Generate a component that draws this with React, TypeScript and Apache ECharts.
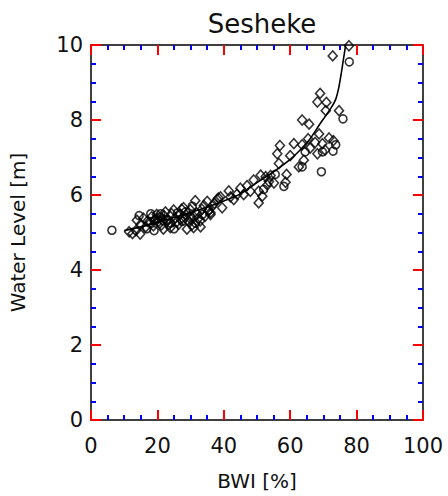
import React, { useEffect, useRef } from "react";
import * as echarts from "echarts";

const titleText = "Sesheke";
const xName = "BWI [%]";
const yName = "Water Level [m]";

// hollow diamonds [BWI %, water level m]
const diamondPoints: number[][] = [
  [11.5, 5.02], [12.5, 4.97], [13.5, 5.05], [14.8, 4.96], [13.8, 5.33], [15.0, 5.22], [15.8, 5.38],
  [16.5, 5.15], [17.0, 5.30], [17.8, 5.25], [18.3, 5.42], [18.8, 5.18], [19.3, 5.35], [19.8, 5.48],
  [20.2, 5.28], [20.8, 5.40], [21.2, 5.20], [21.8, 5.09], [22.0, 5.45], [22.4, 5.55], [23.0, 5.32],
  [23.5, 5.22], [23.9, 5.13], [24.3, 5.50], [24.9, 5.60], [25.3, 5.38], [25.8, 5.28], [26.4, 5.22],
  [26.8, 5.48], [27.3, 5.62], [27.9, 5.66], [28.3, 5.40], [28.9, 5.09], [29.3, 5.30], [29.9, 5.61],
  [29.9, 5.44], [30.4, 5.20], [30.9, 5.13], [31.4, 5.85], [31.8, 5.52], [32.4, 5.38], [32.9, 5.31],
  [33.4, 5.62], [34.0, 5.72], [34.4, 5.44], [35.0, 5.83], [35.4, 5.58], [36.0, 5.53], [36.5, 5.70],
  [37.2, 5.78], [38.0, 5.88], [38.4, 5.92], [39.5, 5.66], [36.0, 5.48], [33.0, 5.15], [19.0, 5.32],
  [20.0, 5.38], [21.5, 5.33], [27.0, 5.35], [30.0, 5.36], [31.0, 5.42],
  [41.5, 6.11], [43.0, 5.88], [45.0, 6.18], [46.0, 6.01], [48.0, 6.10], [49.0, 6.40], [50.5, 6.10],
  [51.6, 5.97], [50.5, 5.79], [51.1, 6.53], [52.6, 6.49], [53.1, 6.27], [54.1, 6.52], [53.6, 6.36],
  [55.1, 6.32], [56.9, 7.32], [56.1, 7.10], [56.6, 6.84], [58.9, 6.55], [58.6, 6.34], [44.0, 6.02],
  [47.0, 6.25], [39.0, 5.95], [42.0, 5.95],
  [72.8, 9.71], [77.7, 9.98], [69.0, 8.71], [68.2, 8.48], [70.9, 8.47], [70.7, 8.25], [74.7, 8.25],
  [63.6, 8.00], [65.7, 7.89], [61.1, 7.37], [63.6, 7.34], [65.4, 7.50], [68.7, 7.63], [71.7, 7.52],
  [69.7, 7.37], [68.2, 7.10], [64.1, 6.93], [62.6, 6.75], [60.0, 7.05], [66.0, 7.25], [67.5, 7.40],
  [70.5, 7.20], [73.0, 7.45],
];

// hollow circles
const circlePoints: number[][] = [
  [6.3, 5.06], [14.5, 5.45], [16.8, 5.10], [19.0, 5.05], [21.0, 5.50], [22.8, 5.35], [25.0, 5.10],
  [26.0, 5.52], [27.5, 5.30], [28.5, 5.55], [30.5, 5.70], [31.5, 5.25], [33.5, 5.48], [35.5, 5.60],
  [18.0, 5.50], [24.0, 5.25], [58.1, 6.23], [55.5, 6.55], [52.0, 6.15],
  [77.8, 9.55], [75.9, 8.03], [73.7, 7.34], [72.9, 7.17], [69.7, 7.15], [69.4, 6.62], [63.6, 6.75],
  [64.5, 7.15],
];

// fitted rating curve
const fitX = [10, 15, 20, 25, 30, 35, 40, 45, 50, 55, 60, 63, 66, 69, 71, 72.5, 73.7, 74.6, 75.3, 76.0, 76.7];
const fitY = [5.05, 5.15, 5.27, 5.40, 5.53, 5.68, 5.84, 6.03, 6.33, 6.62, 6.95, 7.2, 7.5, 7.9, 8.15, 8.35, 8.55, 8.85, 9.2, 9.6, 10.0];

const FONT = "DejaVu Sans";

function makeAxis(extra: any) {
  return {
    type: "value",
    axisLine: { show: true, onZero: false, lineStyle: { color: "#000", width: 1.5 } },
    splitLine: { show: false },
    axisTick: { show: true, inside: true, length: 10, lineStyle: { color: "#f00", width: 2 } },
    minorTick: { show: true, splitNumber: 4, length: 5, lineStyle: { color: "#00f", width: 2 } },
    ...extra,
  };
}

export default function App() {
  const ref = useRef<HTMLDivElement>(null);
  useEffect(() => {
    if (!ref.current) return;
    const chart = echarts.init(ref.current, null, { renderer: "svg" });
    chart.setOption({
      animation: false,
      backgroundColor: "#fff",
      title: {
        text: titleText,
        left: 257,
        top: 6,
        textAlign: "center",
        textStyle: { fontFamily: FONT, fontSize: 26, fontWeight: "normal", color: "#111" },
      },
      grid: { left: 91, right: 25, top: 45, bottom: 71 },
      xAxis: [
        makeAxis({
          min: 0,
          max: 100,
          interval: 20,
          position: "bottom",
          name: xName,
          nameLocation: "middle",
          nameGap: 51,
          nameTextStyle: { fontFamily: FONT, fontSize: 20, color: "#111" },
          axisLabel: { fontFamily: FONT, fontSize: 21, color: "#111", margin: 15 },
        }),
        makeAxis({ min: 0, max: 100, interval: 20, position: "top", axisLabel: { show: false } }),
      ],
      yAxis: [
        makeAxis({
          min: 0,
          max: 10,
          interval: 2,
          position: "left",
          name: yName,
          nameLocation: "middle",
          nameRotate: 90,
          nameGap: 63,
          nameTextStyle: { fontFamily: FONT, fontSize: 20, color: "#111" },
          axisLabel: { fontFamily: FONT, fontSize: 21, color: "#111", margin: 8 },
        }),
        makeAxis({ min: 0, max: 10, interval: 2, position: "right", axisLabel: { show: false } }),
      ],
      series: [
        {
          type: "line",
          data: fitX.map((x, i) => [x, fitY[i]]),
          showSymbol: false,
          symbol: "none",
          smooth: 0.3,
          lineStyle: { color: "#000", width: 1.6 },
          z: 3,
        },
        {
          type: "scatter",
          data: diamondPoints,
          symbol: "diamond",
          symbolSize: [9, 10],
          itemStyle: { color: "rgba(0,0,0,0)", borderColor: "#000", borderWidth: 1.6 },
          z: 2,
        },
        {
          type: "scatter",
          data: circlePoints,
          symbol: "circle",
          symbolSize: 8,
          itemStyle: { color: "rgba(0,0,0,0)", borderColor: "#000", borderWidth: 1.6 },
          z: 2,
        },
      ],
    });
    return () => chart.dispose();
  }, []);
  return (
    <div
      ref={ref}
      style={{ position: "fixed", left: 0, top: 0, width: 448, height: 496 }}
    />
  );
}
